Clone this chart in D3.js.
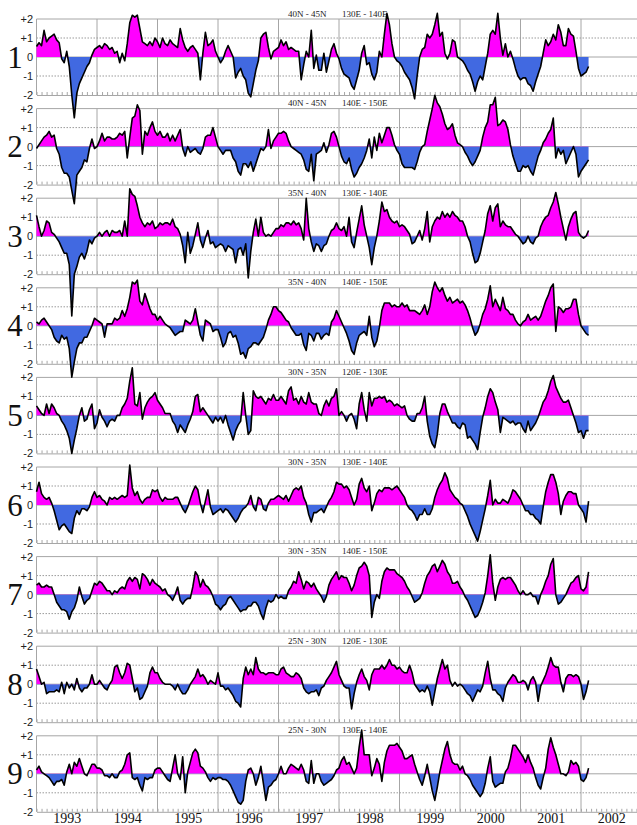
<!DOCTYPE html>
<html>
<head>
<meta charset="utf-8">
<script src="https://cdn.jsdelivr.net/npm/d3@7"></script>
<style>
  body { margin: 0; background: #fff; }
  svg { display: block; }
</style>
</head>
<body>
<div id="chart"></div>
<script>
// anomaly series, 24 samples per year from Jan 1993 (rows = years)
const startYear = 1993;
const perYear = 24;

const panelNumbers = ["1", "2", "3", "4", "5", "6", "7", "8", "9"];
const latBands = ["40N - 45N", "40N - 45N", "35N - 40N", "35N - 40N", "30N - 35N",
                  "30N - 35N", "30N - 35N", "25N - 30N", "25N - 30N"];
const lonBands = ["130E - 140E", "140E - 150E", "130E - 140E", "140E - 150E", "120E - 130E",
                  "130E - 140E", "140E - 150E", "120E - 130E", "130E - 140E"];
const yearLabels = [1993, 1994, 1995, 1996, 1997, 1998, 1999, 2000, 2001, 2002];
const yTicks = [2, 1, 0, -1, -2];
const yTickLabels = ["+2", "+1", "0", "-1", "-2"];

const s1 = [
  0.55,0.75,0.6,1.4,0.8,1.0,1.1,1.2,0.9,0.75,-0.1,-0.3,0.3,-0.5,-2.0,-3.2,-1.9,-1.4,-1.1,-0.8,-0.5,-0.3,0.1,0.4,
  0.5,0.6,0.45,0.7,0.6,0.4,0.5,0.2,0.3,-0.3,0.2,-0.2,0.7,1.8,2.2,2.1,2.2,1.5,0.8,0.7,0.6,0.8,0.6,1.0,
  0.8,0.5,1.0,0.7,0.6,0.9,0.7,0.6,0.5,1.5,0.9,0.5,0.3,0.5,0.6,0.4,0.2,-1.2,0.2,1.3,0.6,0.7,0.9,0.3,
  0.0,-0.3,-0.1,0.3,0.6,0.3,0.0,-1.1,-0.8,-0.6,-1.0,-1.2,-1.9,-2.1,-1.4,-0.7,-0.2,1.0,1.2,1.3,0.5,-0.1,0.3,0.4,
  0.5,0.9,0.6,0.8,0.4,0.5,0.4,0.3,0.3,-1.2,-0.4,0.3,0.0,1.4,-0.6,0.1,-0.7,-0.7,0.2,-0.8,-0.2,0.4,0.7,0.2,
  -0.1,-0.6,-0.9,-1.0,-1.1,-1.5,-1.7,-1.2,-0.7,0.2,0.6,-0.4,-0.3,-0.9,-1.2,-0.8,0.3,0.0,1.2,2.3,1.7,0.7,0.0,-0.2,
  -0.3,-0.5,-0.8,-1.0,-1.2,-1.6,-2.2,-1.0,0.0,0.4,0.5,1.2,1.0,1.2,1.7,2.3,1.1,1.3,0.2,-0.1,0.2,0.9,0.8,0.0,
  -0.1,-0.2,-0.4,-0.7,-0.9,-1.3,-1.8,-1.3,-1.0,-1.2,-0.5,0.2,1.2,1.4,1.2,2.3,1.0,0.1,0.7,0.0,0.3,-0.1,-0.6,-1.0,
  -1.2,-1.1,-1.1,-1.4,-1.5,-1.8,-1.3,-0.9,-0.5,0.2,0.9,0.6,0.8,1.2,0.9,1.7,1.3,0.6,0.6,1.5,1.2,1.1,0.3,-0.6,
  -1.0,-0.9,-0.8,-0.5
];
const s2 = [
  -0.1,0.1,0.3,0.5,0.6,0.8,0.5,0.6,-0.1,-0.4,-1.1,-1.4,-1.4,-1.6,-2.3,-3.0,-1.5,-1.3,-1.1,-0.7,-0.8,-0.1,0.4,-0.1,
  0.0,0.3,0.7,0.3,0.5,0.5,0.4,0.4,0.5,0.7,0.6,0.8,-0.6,0.5,1.5,1.6,2.2,1.9,-0.4,0.8,0.6,1.0,1.3,0.8,
  0.6,0.8,0.5,0.5,0.7,0.3,0.6,0.3,0.6,0.9,-0.1,-0.5,0.0,-0.3,-0.2,-0.1,-0.3,-0.4,-0.1,0.5,0.6,0.6,1.0,0.5,
  0.0,-0.2,-0.4,-0.2,-0.2,-0.2,-0.6,-0.8,-1.3,-1.5,-0.9,-0.9,-1.1,-0.8,-1.3,-0.9,-0.5,-0.1,-0.2,0.0,0.9,-0.1,0.3,0.5,
  0.7,0.7,0.8,0.7,0.3,0.0,-0.1,-0.2,-0.3,-0.4,-0.7,-1.2,-1.3,-0.4,-1.8,-0.4,-0.3,-0.2,0.2,-0.3,0.1,0.7,0.8,0.5,
  0.0,-0.5,-0.8,-0.9,-0.6,-1.2,-1.6,-1.4,-1.1,-0.9,-0.6,-0.2,0.4,-0.6,0.5,-0.2,0.7,0.2,0.6,1.0,1.0,0.6,0.1,-0.2,
  -0.4,-0.9,-1.1,-1.1,-1.1,-1.1,-1.2,-0.8,-0.3,0.0,0.1,0.8,1.4,2.0,2.7,2.3,2.1,1.7,1.2,0.9,1.0,1.2,0.6,0.2,
  0.1,0.0,-0.3,-0.5,-0.8,-1.0,-0.8,-0.5,-0.2,0.5,1.0,1.3,2.2,2.2,2.6,1.1,1.2,1.4,1.3,0.9,0.1,-0.5,-0.9,-1.3,
  -1.3,-1.0,-1.1,-1.0,-1.3,-1.5,-1.0,-0.5,-0.2,0.2,0.4,0.7,0.9,1.5,-0.6,-0.1,-0.4,-0.2,-0.9,-0.6,-0.3,0.0,-0.4,-1.6,
  -1.3,-1.1,-0.9,-0.7
];
const s3 = [
  1.1,0.5,0.0,0.3,0.8,0.7,0.2,0.1,-0.1,-0.3,-0.6,-0.9,-0.9,-1.5,-4.2,-2.0,-1.6,-1.1,-0.9,-1.2,-0.8,-0.2,-0.4,-0.1,
  0.0,0.2,0.0,0.2,0.3,0.0,0.3,0.2,0.2,0.3,0.0,0.8,0.0,2.5,2.2,2.1,1.6,1.0,0.7,0.5,0.7,0.6,0.8,0.4,
  0.5,0.7,0.6,0.7,0.7,0.6,0.9,0.5,0.4,0.1,-0.5,-1.4,0.2,-0.9,-0.5,0.1,0.7,-0.2,-0.6,-0.1,0.3,-0.4,-0.3,-0.6,
  -0.5,-0.4,-0.5,-0.8,-0.5,-0.6,-0.7,-1.4,-0.7,-0.6,-1.0,-0.4,-2.2,-0.8,0.2,0.9,0.0,1.0,0.2,0.0,0.1,0.0,0.2,0.4,
  0.4,0.6,0.5,0.7,0.7,0.6,0.8,0.6,0.7,0.4,-0.2,2.0,0.4,-0.3,-0.8,-0.4,-0.5,-0.8,-0.5,-0.4,0.0,0.3,0.4,0.7,
  0.4,0.3,0.5,0.0,1.0,-0.3,-0.6,0.2,0.9,1.6,0.6,0.0,-0.6,-1.5,-0.6,0.0,0.8,1.8,1.3,1.4,1.0,0.8,0.7,0.8,
  0.5,0.6,0.5,0.3,0.1,-0.4,-0.3,0.0,0.3,-0.2,0.4,1.3,-0.3,0.5,0.8,1.0,0.9,1.3,1.0,1.2,1.0,1.3,1.1,1.0,
  0.8,0.8,0.5,0.0,-0.3,-0.9,-1.4,-1.3,-0.9,-0.3,0.3,1.2,1.6,0.8,1.5,1.7,0.5,0.8,0.6,0.5,0.5,0.3,0.1,0.0,
  -0.2,-0.4,-0.3,0.0,-0.3,-0.4,-0.1,0.0,0.5,0.8,1.0,1.1,1.5,1.8,2.3,1.7,1.0,0.4,-0.2,0.5,0.9,1.2,1.3,0.2,
  0.0,-0.1,0.0,0.3
];
const s4 = [
  0.2,0.1,0.3,0.4,0.2,0.0,-0.2,-0.6,-0.8,-0.9,-0.5,-0.7,-0.6,-1.2,-2.7,-1.9,-1.2,-0.9,-0.9,-0.6,-0.6,-0.3,0.0,0.4,
  0.3,0.2,0.1,-0.6,0.1,0.1,0.1,0.4,0.3,0.4,0.8,0.5,0.9,1.5,2.3,2.2,2.4,1.3,1.1,1.7,1.3,0.9,0.6,0.6,
  0.3,0.5,0.3,0.1,0.0,-0.1,-0.3,-0.5,-0.4,-0.3,-0.3,0.3,0.2,0.1,0.3,0.9,0.2,-0.5,-0.8,0.3,0.2,0.1,-0.3,-0.2,
  -0.2,-0.6,-1.1,-0.9,-0.4,-0.3,-0.6,-0.5,-0.9,-1.5,-1.4,-1.7,-1.2,-1.1,-0.9,-0.9,-1.0,-0.8,-0.6,-0.2,0.3,0.6,1.0,1.0,
  0.8,0.7,0.5,0.3,0.2,-0.1,-0.3,-0.5,-0.5,-0.4,-1.0,-1.3,-0.4,-0.5,-0.8,-0.4,-0.4,-0.7,-0.5,-0.4,-0.5,0.2,0.4,0.8,
  0.5,0.2,-0.1,-0.4,-0.8,-1.3,-1.5,-0.9,-0.5,-0.4,-0.3,-0.5,0.5,-0.6,-1.1,-0.8,-0.1,0.8,1.2,1.2,1.2,1.0,1.1,1.0,
  1.0,1.2,1.0,1.1,0.8,0.8,0.8,0.7,0.6,0.8,1.1,0.6,1.0,1.8,2.3,2.0,1.8,2.0,1.6,1.3,1.5,1.2,1.3,1.4,
  1.2,1.3,1.1,0.8,0.4,-0.1,-0.5,-0.3,0.1,0.6,0.9,1.4,2.1,1.0,1.4,1.1,0.8,1.5,0.9,0.8,0.6,0.6,0.3,0.1,
  0.0,0.2,0.3,0.6,0.3,0.4,0.5,0.3,0.5,0.9,1.3,1.6,2.0,2.2,-0.3,1.0,0.9,0.7,0.9,0.9,1.0,1.4,1.4,0.6,
  0.0,-0.2,-0.4,-0.5
];
const s5 = [
  0.5,0.3,0.1,0.0,0.6,0.1,0.6,0.4,0.1,0.0,-0.3,-0.5,-0.8,-1.2,-2.0,-1.3,-0.7,0.0,0.4,-0.3,-0.2,0.3,0.6,-0.7,
  -0.4,0.3,-0.1,-0.3,-0.6,-0.3,-0.2,-0.3,0.0,0.0,0.4,0.6,0.9,1.8,2.5,0.6,0.5,1.2,-0.2,0.4,0.7,0.9,1.0,1.2,
  0.8,0.6,0.4,0.1,0.1,0.1,-0.3,-0.5,-0.9,-0.5,-0.7,-0.9,-0.5,-0.2,0.2,1.0,1.1,0.2,0.4,0.2,0.0,-0.2,-0.4,-0.1,
  -0.3,-0.1,-0.4,0.0,-0.5,-0.9,-1.3,-0.8,-0.5,-0.3,1.2,0.0,-1.0,-0.8,1.3,1.0,0.9,1.0,0.8,0.6,0.9,0.8,1.1,0.8,
  0.8,1.0,0.8,0.6,1.3,1.5,0.8,0.9,0.6,1.0,0.7,0.6,1.2,0.7,0.6,0.6,0.1,0.0,0.5,0.8,0.5,0.9,1.0,1.4,
  0.0,0.2,0.0,-0.3,0.0,0.1,-0.2,-0.7,0.6,1.2,0.3,-0.3,1.2,0.5,0.9,0.9,1.0,0.9,1.0,0.7,0.8,0.7,0.5,0.6,
  0.5,0.4,0.5,0.0,-0.2,-0.3,-0.3,0.1,0.1,0.4,1.0,-0.3,-1.1,-1.5,-1.7,-1.0,0.1,0.6,0.6,0.2,-0.1,-0.4,-0.4,-0.6,
  -0.7,-0.4,-0.5,-1.2,-1.1,-1.3,-1.5,-1.8,-0.9,-0.1,0.4,1.0,1.4,1.2,0.7,0.3,-0.9,-0.1,-0.2,-0.3,-0.4,-0.3,-0.5,-0.4,
  -0.4,-0.7,-0.9,-0.3,-0.8,-0.6,-0.4,-0.1,0.3,0.7,0.9,1.3,1.8,2.1,1.5,1.2,0.9,0.7,0.7,0.8,0.4,0.0,-0.4,-0.9,
  -0.8,-1.2,-0.8,-0.8
];
const s6 = [
  0.7,1.2,0.6,0.4,0.3,0.4,0.1,-0.3,-0.8,-1.3,-1.1,-1.0,-1.2,-1.4,-1.5,-0.7,-0.3,-0.5,-0.2,-0.2,-0.3,-0.1,0.4,0.7,
  0.4,0.5,0.3,0.2,0.0,0.4,0.3,0.4,0.3,0.4,0.5,0.4,0.5,2.1,0.9,0.5,0.7,0.3,0.1,0.3,0.4,0.4,0.8,0.7,
  0.8,0.4,0.2,0.4,0.3,0.3,0.3,0.4,0.4,0.1,-0.2,-0.4,-0.1,0.3,0.7,1.0,0.8,0.1,-0.4,0.2,0.8,-0.1,-0.5,-0.4,
  -0.3,-0.2,-0.4,-0.2,-0.3,-0.5,-0.7,-0.9,-0.7,-0.4,-0.2,-0.1,0.1,0.5,-0.1,-0.3,0.4,0.3,-0.2,-0.3,0.1,0.3,0.3,0.4,
  0.5,0.4,0.3,0.5,0.2,0.5,0.8,0.9,0.8,1.0,0.4,0.1,-0.5,-0.9,-0.4,-0.4,-0.3,-0.2,-0.4,-0.1,0.2,0.4,0.7,1.2,
  1.1,1.1,0.9,1.0,0.8,0.4,0.0,0.3,1.1,1.4,0.9,0.7,1.0,-0.3,0.1,0.6,0.8,0.7,0.9,0.9,0.9,0.8,0.9,1.0,
  0.8,0.6,0.4,0.0,-0.2,-0.3,-0.5,-0.8,-0.5,-0.5,-0.2,-0.5,-0.5,-0.2,0.4,0.8,1.1,1.3,1.7,1.4,0.8,0.6,0.4,0.3,
  0.1,0.0,-0.3,-0.6,-1.0,-1.3,-1.6,-1.9,-1.4,-0.8,-0.2,0.5,1.3,0.0,0.3,0.1,0.1,0.3,0.2,0.1,0.4,0.8,0.7,0.5,
  0.3,0.0,-0.3,-0.3,-0.5,-0.5,-0.7,-0.8,-1.0,-0.1,0.7,1.2,1.6,1.6,1.2,0.6,-0.5,0.2,0.5,0.7,0.7,0.6,0.6,0.0,
  -0.2,-0.4,-0.9,0.2
];
const s7 = [
  0.5,0.6,0.4,0.4,0.5,0.4,0.4,0.0,-0.4,-0.6,-0.8,-0.8,-0.9,-1.3,-0.9,-0.7,-0.3,0.4,-0.1,-0.5,-0.3,-0.2,0.2,0.6,
  0.5,0.7,0.6,0.4,0.2,0.2,0.0,0.2,0.1,0.3,0.4,0.3,0.7,0.9,0.7,0.9,0.8,0.3,1.1,1.0,0.8,0.5,0.8,0.6,
  0.5,0.4,0.2,0.3,0.0,-0.1,-0.3,0.0,0.4,-0.3,-0.5,-0.3,-0.2,-0.2,0.4,1.2,1.0,0.4,0.8,0.5,0.4,0.2,-0.1,-0.5,
  -0.6,-0.8,-0.6,-0.5,-0.2,-0.1,-0.3,-0.5,-0.7,-0.9,-0.8,-0.8,-0.6,-0.6,-0.4,-0.4,-0.6,-1.0,-1.3,-0.7,-0.3,-0.4,-0.3,0.0,
  -0.2,-0.1,-0.2,-0.2,0.2,0.4,0.7,0.6,1.2,0.8,0.3,0.7,0.6,0.4,0.6,0.3,0.1,-0.1,-0.4,-0.1,0.5,0.8,1.0,1.2,
  0.8,1.0,0.9,0.9,0.6,0.2,0.5,1.0,1.4,1.5,1.7,1.5,1.0,-1.2,-0.4,0.0,-0.2,0.7,1.2,1.4,1.3,1.3,1.3,1.1,
  1.0,0.9,0.7,0.4,0.2,-0.1,-0.4,-0.3,-0.2,0.1,0.6,1.0,1.2,1.5,1.6,1.2,1.5,1.8,1.6,1.2,1.0,0.6,0.6,0.7,
  0.4,0.2,-0.1,-0.3,-0.6,-0.9,-1.2,-1.1,-0.8,-0.4,0.1,1.0,2.1,0.6,-0.3,0.4,0.8,0.9,0.8,0.9,0.9,0.7,0.5,0.2,
  0.0,0.2,0.0,0.0,0.1,-0.1,-0.1,-0.5,0.0,0.3,0.7,1.0,1.6,1.9,0.0,-0.5,-0.4,-0.2,0.0,0.3,0.6,0.7,0.9,1.0,
  0.3,0.2,0.4,1.2
];
const s8 = [
  0.8,0.4,0.0,0.1,-0.5,-0.4,-0.4,-0.4,-0.3,-0.4,0.1,-0.5,0.1,-0.2,0.0,-0.3,0.3,-0.2,-0.4,-0.2,-0.2,0.0,0.5,0.0,
  0.0,0.2,0.0,-0.2,-0.3,0.0,0.2,0.9,1.0,0.6,0.3,0.6,1.1,1.0,0.3,-0.4,-0.2,-0.8,-0.7,-0.4,-0.1,0.6,0.9,0.6,
  0.6,0.3,0.1,0.0,0.0,0.0,-0.1,-0.3,0.0,-0.3,-0.5,-0.5,-0.3,0.0,0.2,0.4,0.8,0.4,0.5,0.3,0.0,0.2,0.1,0.0,
  0.6,-0.1,-0.1,-0.3,-0.2,-0.4,-0.6,-0.9,-1.0,-1.2,0.3,0.9,0.5,0.8,0.5,1.4,0.8,0.6,0.6,0.5,0.6,0.6,0.6,0.5,
  0.5,0.8,0.9,0.6,0.5,0.4,0.4,0.6,0.5,0.3,-0.2,-0.4,-0.5,-0.4,-0.4,-0.3,-0.6,-0.2,-0.1,0.2,0.4,0.6,0.9,1.2,
  0.5,0.2,-0.1,-0.2,-0.2,-1.3,-0.5,0.1,0.5,0.8,0.4,0.2,-0.3,0.5,0.8,0.8,0.8,1.0,0.8,1.0,1.3,1.0,1.0,0.8,
  0.9,0.7,0.6,0.6,1.0,0.6,0.0,-0.2,-0.4,-0.3,-0.4,-0.1,-0.4,-1.1,-0.4,0.3,0.8,1.3,0.8,1.0,0.2,-0.1,0.1,-0.1,
  0.0,-0.1,-0.3,-0.5,-0.6,-0.9,-0.6,-0.3,-0.4,-0.1,0.6,1.2,0.3,-0.3,-0.3,-0.5,-0.6,-0.9,-0.2,0.1,0.3,0.5,0.4,0.1,
  0.1,0.2,0.1,-0.3,0.2,0.4,0.1,-0.9,-0.1,0.2,0.5,0.9,1.4,1.0,0.9,0.9,0.1,-0.4,0.3,0.5,0.5,0.4,0.5,0.4,
  0.0,-0.8,-0.4,0.2
];
const s9 = [
  0.2,0.4,0.1,0.0,-0.1,-0.2,-0.4,-0.6,-0.4,-0.4,-0.3,-0.6,0.1,0.5,0.0,0.6,0.4,0.8,0.4,0.0,-0.1,0.2,0.5,0.5,
  0.3,0.3,0.2,-0.1,-0.1,-0.2,0.0,-0.2,-0.2,0.1,0.2,0.5,1.0,1.1,-0.2,-0.3,-0.2,-0.6,-0.9,-0.2,-0.3,-0.2,-0.2,0.2,
  0.3,0.3,0.1,-0.1,-0.3,-0.4,0.3,1.0,0.0,-0.3,0.9,-1.0,0.1,0.6,1.1,1.3,1.1,0.4,0.3,0.1,-0.2,-0.4,-0.2,-0.3,
  -0.2,-0.2,-0.3,-0.3,-0.4,-0.6,-0.9,-1.2,-1.5,-1.6,-1.4,-0.4,0.2,0.3,0.0,-0.6,-0.2,0.4,-0.5,-1.4,-0.7,-0.6,-0.4,-0.3,
  0.0,0.4,0.0,0.0,0.3,0.5,0.4,0.3,0.2,0.5,0.2,-0.4,-0.5,0.7,-0.5,0.0,0.0,-0.4,-0.6,-0.5,-0.4,-0.3,-0.1,0.2,
  0.3,0.7,0.9,0.5,0.6,0.3,0.0,0.3,1.4,2.3,1.0,1.0,1.0,-0.1,0.3,0.8,0.5,-0.4,0.6,1.2,1.5,1.5,1.5,1.6,
  1.4,1.2,0.8,0.8,0.9,1.0,0.5,0.1,-0.3,-0.6,-0.1,0.5,-0.2,-0.9,-1.4,-0.7,0.1,0.7,1.3,1.7,1.0,0.6,0.5,0.5,
  0.2,0.4,0.0,-0.1,-0.3,-0.6,-0.8,-1.0,-1.2,-1.0,-0.5,0.3,0.9,-0.4,-0.7,-0.6,-0.5,-0.5,0.1,0.3,0.8,1.5,1.5,1.3,
  1.1,0.9,0.6,1.0,0.6,0.3,-0.2,-0.6,-0.8,-0.2,0.3,1.3,1.9,1.4,1.0,0.5,0.0,0.0,-0.1,0.1,0.7,0.5,0.6,0.4,
  -0.3,-0.4,-0.2,0.3
];
const series = [s1, s2, s3, s4, s5, s6, s7, s8, s9];

// layout
const width = 637, height = 825;
const panelTop = 19, panelStep = 89.6, panelH = 76;
const posColor = "#ff00ff", negColor = "#4169e1", gridColor = "#a6a6a6";

const svg = d3.select("#chart").append("svg")
    .attr("width", width)
    .attr("height", height)
    .style("background", "#fff");

// time scale: one year ~ 60.5px, Jan 1993 at the left frame
const x = d3.scaleLinear().domain([1993, 2003]).range([36.5, 641.5]);
const yearLines = d3.range(1994, 2003);
const months = d3.range(0, 121).map(m => 1993 + m / 12);

const gridLayer = svg.append("g");
const dataLayer = svg.append("g");
const defs = svg.append("defs");

series.forEach((vals, k) => {
    const top = panelTop + k * panelStep;
    const y = d3.scaleLinear().domain([-2, 2]).range([top + panelH, top]);
    const g = gridLayer.append("g");

    // year grid lines
    g.selectAll(".yr").data(yearLines).enter().append("line")
        .attr("x1", d => x(d)).attr("x2", d => x(d))
        .attr("y1", y(2)).attr("y2", y(-2))
        .attr("stroke", gridColor).attr("stroke-width", 1);

    // dotted +1 / -1
    g.selectAll(".dot").data([1, -1]).enter().append("line")
        .attr("x1", x(1993)).attr("x2", width)
        .attr("y1", d => y(d)).attr("y2", d => y(d))
        .attr("stroke", "#9a9a9a").attr("stroke-width", 1)
        .attr("stroke-dasharray", "1.5,1.5");

    // zero line and frame (top / left)
    g.selectAll(".hl").data([2, 0]).enter().append("line")
        .attr("x1", x(1993)).attr("x2", width)
        .attr("y1", d => y(d)).attr("y2", d => y(d))
        .attr("stroke", gridColor).attr("stroke-width", 1);
    g.append("line")
        .attr("x1", x(1993)).attr("x2", x(1993))
        .attr("y1", y(2)).attr("y2", y(-2))
        .attr("stroke", gridColor).attr("stroke-width", 1);

    // bottom frame with monthly ticks
    const bx = g.append("g")
        .attr("transform", `translate(0, ${y(-2)})`)
        .call(d3.axisBottom(x).tickValues(months).tickSizeInner(-3).tickSizeOuter(0).tickFormat(""));
    bx.selectAll("path, line").attr("stroke", gridColor);

    // y tick labels
    const ax = g.append("g")
        .attr("transform", `translate(${x(1993)}, 0)`)
        .call(d3.axisLeft(y).tickValues(yTicks).tickSize(0).tickPadding(3.5)
            .tickFormat((d, i) => yTickLabels[i]));
    ax.select(".domain").remove();
    ax.selectAll("text")
        .attr("font-family", "Liberation Sans, Arial, sans-serif")
        .attr("font-size", 11)
        .attr("fill", "#222");

    // big panel number
    g.append("text")
        .attr("x", 15).attr("y", y(0) + 10.5)
        .attr("text-anchor", "middle")
        .attr("font-family", "Liberation Serif, Times New Roman, serif")
        .attr("font-size", 31)
        .attr("fill", "#111")
        .text(panelNumbers[k]);

    // region title
    g.append("text")
        .attr("x", 288).attr("y", top - 2.5)
        .attr("font-family", "Liberation Serif, Times New Roman, serif")
        .attr("font-size", 9)
        .attr("fill", "#222")
        .text(latBands[k]);
    g.append("text")
        .attr("x", 342).attr("y", top - 2.5)
        .attr("font-family", "Liberation Serif, Times New Roman, serif")
        .attr("font-size", 9)
        .attr("fill", "#222")
        .text(lonBands[k]);

    // data: positive / negative fills split by clipping at zero
    const data = vals.map((v, i) => ({ t: startYear + i / perYear, v: v }));
    defs.append("clipPath").attr("id", "pos" + k)
        .append("rect").attr("x", 0).attr("y", -200).attr("width", width).attr("height", y(0) + 200);
    defs.append("clipPath").attr("id", "neg" + k)
        .append("rect").attr("x", 0).attr("y", y(0)).attr("width", width).attr("height", 1200);

    const area = d3.area()
        .x(d => x(d.t))
        .y0(y(0))
        .y1(d => y(d.v));
    const line = d3.line()
        .x(d => x(d.t))
        .y(d => y(d.v));

    const dg = dataLayer.append("g");
    dg.append("path").datum(data)
        .attr("d", area).attr("fill", posColor)
        .attr("clip-path", `url(#pos${k})`);
    dg.append("path").datum(data)
        .attr("d", area).attr("fill", negColor)
        .attr("clip-path", `url(#neg${k})`);
    dg.append("path").datum(data)
        .attr("d", line)
        .attr("fill", "none")
        .attr("stroke", "#000")
        .attr("stroke-width", 1.6)
        .attr("stroke-linejoin", "round");

    // year labels under the last panel
    if (k === series.length - 1) {
        const yl = svg.append("g")
            .attr("transform", `translate(0, ${y(-2)})`)
            .call(d3.axisBottom(x).tickValues(yearLabels.map(d => d + 0.5))
                .tickSize(0).tickPadding(1.5).tickFormat(d => String(Math.floor(d))));
        yl.select(".domain").remove();
        yl.selectAll("text")
            .attr("font-family", "Liberation Serif, Times New Roman, serif")
            .attr("font-size", 14)
            .attr("fill", "#111");
    }
});
</script>
</body>
</html>
